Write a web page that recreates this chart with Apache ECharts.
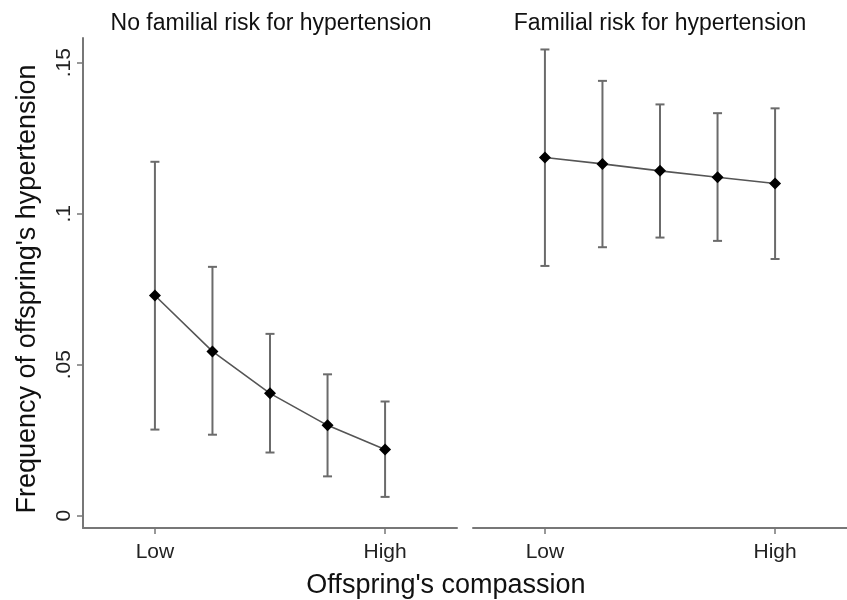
<!DOCTYPE html>
<html>
<head>
<meta charset="utf-8">
<script src="https://cdn.jsdelivr.net/npm/echarts@6/dist/echarts.min.js"></script>
<style>html,body{margin:0;padding:0;background:#fff;}#chart{width:847px;height:600px;}</style>
</head>
<body>
<div id="chart"></div>
<script>
// ---- data ----
const panelTitles = ['No familial risk for hypertension', 'Familial risk for hypertension'];
const xPositions = [0, 1, 2, 3, 4];
const xTickValues = [0, 4];
const xTickLabels = ['Low', 'High'];
const yTickValues = [0, 0.05, 0.1, 0.15];
const yTickLabels = ['0', '.05', '.1', '.15'];
const yTitle = "Frequency of offspring's hypertension";
const xTitle = "Offspring's compassion";

const noRiskMean  = [0.0729, 0.0544, 0.0405, 0.0299, 0.0219];
const noRiskLow   = [0.0285, 0.0268, 0.0209, 0.0130, 0.0062];
const noRiskHigh  = [0.1172, 0.0824, 0.0602, 0.0468, 0.0378];

const riskMean = [0.1186, 0.1165, 0.1142, 0.1121, 0.1100];
const riskLow  = [0.0827, 0.0889, 0.0921, 0.0910, 0.0850];
const riskHigh = [0.1544, 0.1440, 0.1362, 0.1333, 0.1349];

// ---- chart ----
const chart = echarts.init(document.getElementById('chart'), null, {renderer: 'canvas'});
const FONT = 'Liberation Sans, Arial, sans-serif';
const AXIS_COLOR = '#777';
const BAR_COLOR = '#6b6b6b';

function errorSeries(idx, lows, highs) {
  return {
    type: 'custom',
    xAxisIndex: idx, yAxisIndex: idx,
    z: 2,
    silent: true,
    data: xPositions.map((x, i) => [x, lows[i], highs[i]]),
    renderItem: function (params, api) {
      const x = api.value(0);
      const lo = api.coord([x, api.value(1)]);
      const hi = api.coord([x, api.value(2)]);
      const hw = 4.5;
      const st = {stroke: BAR_COLOR, lineWidth: 2};
      return {
        type: 'group',
        children: [
          {type: 'line', shape: {x1: lo[0], y1: lo[1], x2: hi[0], y2: hi[1]}, style: st},
          {type: 'line', shape: {x1: lo[0] - hw, y1: lo[1], x2: lo[0] + hw, y2: lo[1]}, style: st},
          {type: 'line', shape: {x1: hi[0] - hw, y1: hi[1], x2: hi[0] + hw, y2: hi[1]}, style: st}
        ]
      };
    }
  };
}

function lineSeries(idx, means) {
  return {
    type: 'line',
    xAxisIndex: idx, yAxisIndex: idx,
    z: 5,
    data: xPositions.map((x, i) => [x, means[i]]),
    symbol: 'diamond',
    symbolSize: 12,
    itemStyle: {color: '#000'},
    lineStyle: {color: '#555', width: 1.6},
    emphasis: {disabled: true},
    animation: false
  };
}

function xAxis(idx) {
  return {
    type: 'value', gridIndex: idx,
    min: -1.25, max: 5.25,
    axisLine: {show: true, onZero: false, lineStyle: {color: AXIS_COLOR, width: 2}},
    axisTick: {show: true, customValues: xTickValues, length: 6, lineStyle: {color: AXIS_COLOR, width: 1.5}},
    axisLabel: {
      show: true, customValues: xTickValues, margin: 14,
      fontFamily: FONT, fontSize: 21, color: '#222',
      formatter: v => xTickLabels[xTickValues.indexOf(v)] || ''
    },
    splitLine: {show: false}
  };
}

function yAxis(idx, visible) {
  return {
    type: 'value', gridIndex: idx,
    min: -0.0041, max: 0.1582,
    show: visible,
    name: visible ? yTitle : '',
    nameLocation: 'middle',
    nameGap: 42,
    nameTextStyle: {fontFamily: FONT, fontSize: 27, color: '#111', padding: [0, 12, 0, 0]},
    axisLine: {show: true, onZero: false, lineStyle: {color: AXIS_COLOR, width: 2}},
    axisTick: {show: true, customValues: yTickValues, length: 6, lineStyle: {color: AXIS_COLOR, width: 1.5}},
    axisLabel: {
      show: true, customValues: yTickValues, rotate: 90, margin: 8,
      fontFamily: FONT, fontSize: 21, color: '#222',
      formatter: v => yTickLabels[yTickValues.indexOf(v)] || ''
    },
    splitLine: {show: false}
  };
}

const option = {
  backgroundColor: '#fff',
  animation: false,
  grid: [
    {left: 83, top: 38, width: 374, height: 490, containLabel: false},
    {left: 473, top: 38, width: 374, height: 490, containLabel: false}
  ],
  xAxis: [xAxis(0), xAxis(1)],
  yAxis: [yAxis(0, true), yAxis(1, false)],
  graphic: [
    {type: 'text', x: 271, y: 12, style: {text: panelTitles[0], font: '23px ' + FONT, fill: '#111', align: 'center', verticalAlign: 'top'}},
    {type: 'text', x: 660, y: 12, style: {text: panelTitles[1], font: '23px ' + FONT, fill: '#111', align: 'center', verticalAlign: 'top'}},
    {type: 'text', x: 446, y: 572, style: {text: xTitle, font: '27px ' + FONT, fill: '#111', align: 'center', verticalAlign: 'top'}}
  ],
  series: [
    errorSeries(0, noRiskLow, noRiskHigh),
    lineSeries(0, noRiskMean),
    errorSeries(1, riskLow, riskHigh),
    lineSeries(1, riskMean)
  ]
};
chart.setOption(option);
</script>
</body>
</html>
